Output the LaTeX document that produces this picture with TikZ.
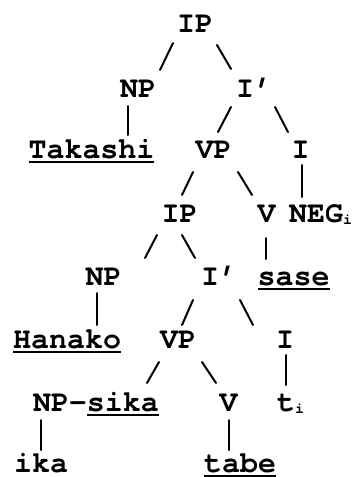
\documentclass[tikz,border=0pt]{standalone}
\usepackage{fontspec}
\newfontfamily\cur{texgyrecursor-bold.otf}
\newcommand\sbx[1]{\raisebox{-2pt}{\fontsize{15}{15}\selectfont #1}}
\newcommand\ulx[1]{\setbox0=\hbox{#1}\rlap{\rule[-5pt]{\wd0}{1.8pt}}\box0}
\tikzset{
  lab/.style={inner sep=0pt, outer sep=0pt, anchor=base, font=\cur\fontsize{30}{36}\selectfont},
  edge/.style={line width=2pt, line cap=round}
}
\begin{document}
\begin{tikzpicture}[x=1pt,y=-1pt]
\useasboundingbox (0,0) rectangle (359,477);
\node[lab] (IP) at (195,32) {IP};
\node[lab] (NPa) at (138,97) {NP};
\node[lab] (Ipa) at (254,97) {I’};
\node[lab] (Tak) at (91.5,158) {\ulx{Takashi}};
\node[lab] (VPa) at (213.5,158) {VP};
\node[lab] (Ia) at (300.5,158) {I};
\node[lab] (IPb) at (179.5,222) {IP};
\node[lab] (Vb) at (266.5,222) {V};
\node[lab, anchor=base west] (NEG) at (289,222) {NEG\sbx{i}};
\node[lab] (NPc) at (103.5,285) {NP};
\node[lab] (Ipc) at (219,285) {I’};
\node[lab] (sase) at (293.5,285) {\ulx{sase}};
\node[lab] (Hana) at (67,348) {\ulx{Hanako}};
\node[lab] (VPd) at (178,348) {VP};
\node[lab] (Id) at (285,348) {I};
\node[lab] (NPs) at (96,411) {NP-\ulx{sika}};
\node[lab] (Ve) at (228.5,411) {V};
\node[lab, anchor=base west] (t) at (277,411) {t\sbx{i}};
\node[lab] (ika) at (41,472) {ika};
\node[lab] (tabe) at (240,472) {\ulx{tabe}};

\draw[edge] ([shift={(-22,11)}]IP.base) -- ([shift={(22,-27)}]NPa.base);
\draw[edge] ([shift={(22,13)}]IP.base) -- ([shift={(-23,-28)}]Ipa.base);
\draw[edge] ([shift={(-10,9)}]NPa.base) -- ([shift={(36.5,-23)}]Tak.base);
\draw[edge] ([shift={(-23,10)}]Ipa.base) -- ([shift={(4.5,-26)}]VPa.base);
\draw[edge] ([shift={(21,10)}]Ipa.base) -- ([shift={(-12.5,-26)}]Ia.base);
\draw[edge] ([shift={(-20.5,14)}]VPa.base) -- ([shift={(2.5,-27)}]IPb.base);
\draw[edge] ([shift={(24.5,14)}]VPa.base) -- ([shift={(-14.5,-27)}]Vb.base);
\draw[edge] ([shift={(1.5,7)}]Ia.base) -- ([shift={(13,-25)}]NEG.base west);
\draw[edge] ([shift={(-22.5,13)}]IPb.base) -- ([shift={(41.5,-27)}]NPc.base);
\draw[edge] ([shift={(2.5,13)}]IPb.base) -- ([shift={(-24,-27)}]Ipc.base);
\draw[edge] ([shift={(-0.5,16)}]Vb.base) -- ([shift={(-27.5,-26)}]sase.base);
\draw[edge] ([shift={(-6.5,8)}]NPc.base) -- ([shift={(30,-23)}]Hana.base);
\draw[edge] ([shift={(-26,15)}]Ipc.base) -- ([shift={(4,-23)}]VPd.base);
\draw[edge] ([shift={(21,15)}]Ipc.base) -- ([shift={(-32,-23)}]Id.base);
\draw[edge] ([shift={(-19,14)}]VPd.base) -- ([shift={(51,-28)}]NPs.base);
\draw[edge] ([shift={(24,14)}]VPd.base) -- ([shift={(-12.5,-28)}]Ve.base);
\draw[edge] ([shift={(1,7)}]Id.base) -- ([shift={(9,-26)}]t.base west);
\draw[edge] ([shift={(-55,9)}]NPs.base) -- ([shift={(0,-22)}]ika.base);
\draw[edge] ([shift={(0.5,9)}]Ve.base) -- ([shift={(-11,-22)}]tabe.base);
\end{tikzpicture}
\end{document}
